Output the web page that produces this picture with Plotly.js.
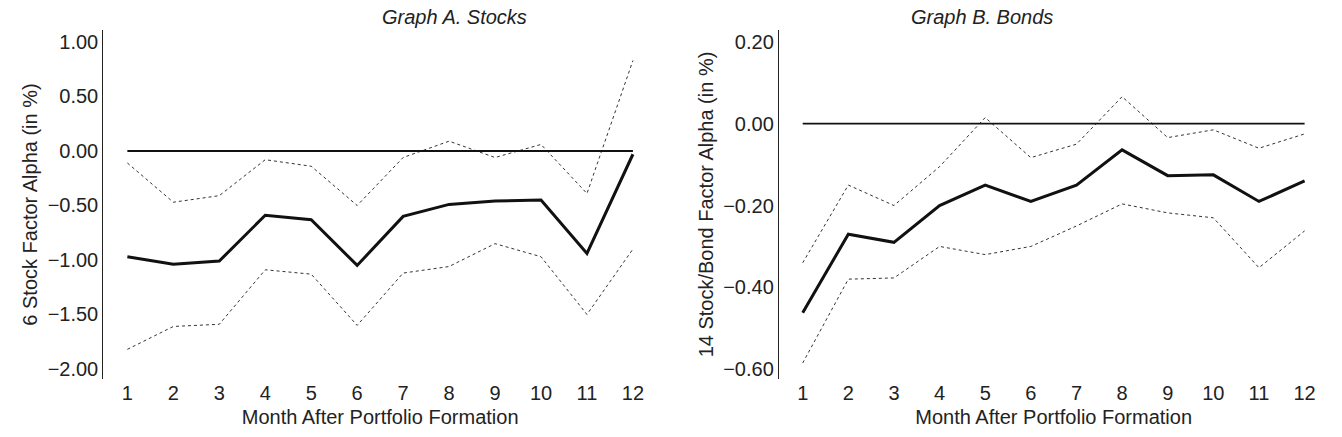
<!DOCTYPE html>
<html>
<head>
<meta charset="utf-8">
<script src="https://cdn.plot.ly/plotly-3.0.1.min.js"></script>
<style>html,body{margin:0;padding:0;background:#fff}#chart{width:1342px;height:437px}</style>
</head>
<body>
<div id="chart"></div>
<script>
// ─── Data ───
const months = [1, 2, 3, 4, 5, 6, 7, 8, 9, 10, 11, 12];

const stockAlpha = [-0.97, -1.04, -1.01, -0.59, -0.63, -1.05, -0.60, -0.49, -0.46, -0.45, -0.94, -0.03];
const stockUpper = [-0.11, -0.47, -0.41, -0.08, -0.14, -0.50, -0.06, 0.09, -0.06, 0.06, -0.39, 0.83];
const stockLower = [-1.82, -1.61, -1.59, -1.09, -1.13, -1.60, -1.12, -1.06, -0.85, -0.97, -1.50, -0.90];

const bondAlpha = [-0.462, -0.27, -0.29, -0.20, -0.15, -0.19, -0.15, -0.064, -0.127, -0.125, -0.19, -0.14];
const bondUpper = [-0.34, -0.15, -0.20, -0.105, 0.015, -0.083, -0.05, 0.066, -0.034, -0.015, -0.06, -0.025];
const bondLower = [-0.585, -0.38, -0.377, -0.30, -0.32, -0.30, -0.25, -0.196, -0.218, -0.23, -0.352, -0.262];

const stockTicks = [1, 0.5, 0, -0.5, -1, -1.5, -2];
const bondTicks = [0.2, 0, -0.2, -0.4, -0.6];

const font = { family: "Liberation Sans, Arial, sans-serif", size: 20, color: "#222" };

function panel(xa, ya, mid, up, lo) {
  return [
    { x: months, y: up, mode: "lines", xaxis: xa, yaxis: ya, line: { color: "#333", width: 1, dash: "dot" } },
    { x: months, y: lo, mode: "lines", xaxis: xa, yaxis: ya, line: { color: "#333", width: 1, dash: "dot" } },
    { x: months, y: mid, mode: "lines", xaxis: xa, yaxis: ya, line: { color: "#111", width: 3 } },
    { x: [1, 12], y: [0, 0], mode: "lines", xaxis: xa, yaxis: ya, line: { color: "#111", width: 1.8 } },
  ];
}

const xBase = {
  range: [0.48, 12.52], tickvals: months, showgrid: false, zeroline: false,
  showline: false, ticks: "", tickfont: font,
  title: { text: "Month After Portfolio Formation", font: font, standoff: 6 },
};
const yBase = { showgrid: false, zeroline: false, showline: true, linecolor: "#222", linewidth: 1.2, ticks: "", tickfont: font };

Plotly.newPlot("chart",
  panel("x", "y", stockAlpha, stockUpper, stockLower).concat(panel("x2", "y2", bondAlpha, bondUpper, bondLower)),
  {
    width: 1342, height: 437, showlegend: false,
    paper_bgcolor: "#fff", plot_bgcolor: "#fff", font: font,
    margin: { l: 0, r: 7, t: 30, b: 58 },
    xaxis: Object.assign({}, xBase, { domain: [0.0775, 0.492], anchor: "y" }),
    xaxis2: Object.assign({}, xBase, { domain: [0.5835, 0.995], anchor: "y2" }),
    yaxis: Object.assign({}, yBase, {
      anchor: "x", range: [-2.092, 1.11], tickvals: stockTicks,
      ticktext: stockTicks.map((v) => v.toFixed(2).replace("-", "\u2212")),
      title: { text: "6 Stock Factor Alpha (in %)", font: font, standoff: 4 },
    }),
    yaxis2: Object.assign({}, yBase, {
      anchor: "x2", range: [-0.624, 0.229], tickvals: bondTicks,
      ticktext: bondTicks.map((v) => v.toFixed(2).replace("-", "\u2212")),
      title: { text: "14 Stock/Bond Factor Alpha (in %)", font: font, standoff: 4 },
    }),
    annotations: [
      { text: "<i>Graph A. Stocks</i>", x: 0.285, y: 1, xref: "paper", yref: "paper", yanchor: "bottom", yshift: 0, showarrow: false, font: font },
      { text: "<i>Graph B. Bonds</i>", x: 0.79, y: 1, xref: "paper", yref: "paper", yanchor: "bottom", yshift: 0, showarrow: false, font: font },
    ],
  },
  { staticPlot: true });
</script>
</body>
</html>
